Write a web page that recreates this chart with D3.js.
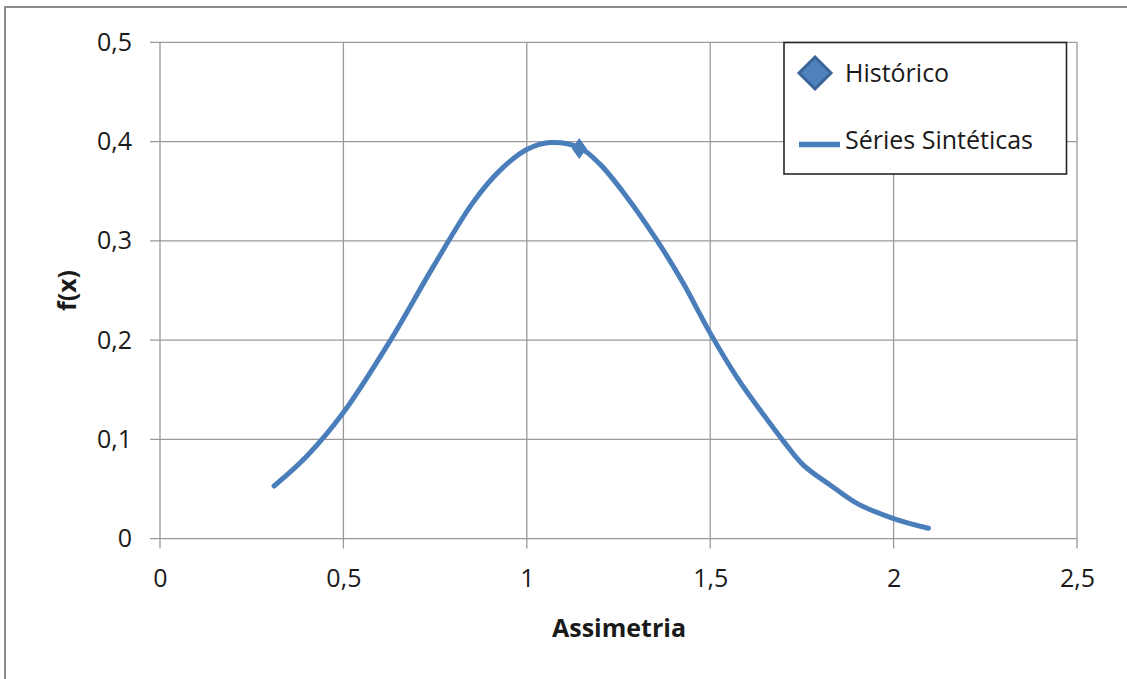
<!DOCTYPE html>
<html>
<head>
  <meta charset="utf-8">
  <script src="https://d3js.org/d3.v7.min.js"></script>
  <style>
    body { margin: 0; background: #fff; }
    .tick-label { font: 25px "Open Sans", sans-serif; fill: #1a1a1a; }
    .axis-title { font: bold 25px "Open Sans", sans-serif; fill: #1a1a1a; }
    .legend-text { font: 25px "Open Sans", sans-serif; fill: #1a1a1a; }
    .grid { stroke: #9a9a9a; stroke-width: 1.3; }
  </style>
</head>
<body>
  <svg width="1127" height="679"></svg>
  <script>
    // values
    var serieX = [0.311, 0.40, 0.5, 0.627, 0.745, 0.854, 0.927, 1.0, 1.063, 1.143,
                  1.2, 1.273, 1.354, 1.427, 1.5, 1.572, 1.645, 1.7, 1.754, 1.827, 1.9, 2.0, 2.095];
    var serieY = [0.053, 0.083, 0.127, 0.199, 0.274, 0.339, 0.371, 0.392, 0.399, 0.394,
                  0.377, 0.344, 0.301, 0.257, 0.207, 0.163, 0.125, 0.098, 0.074, 0.054, 0.0355, 0.0202, 0.0104];
    var historicoX = [1.143];
    var historicoY = [0.393];
    var xTicks = [0, 0.5, 1, 1.5, 2, 2.5];
    var yTicks = [0, 0.1, 0.2, 0.3, 0.4, 0.5];
    var legendLabels = ["Histórico", "Séries Sintéticas"];

    var svg = d3.select("svg");
    var blue = "#4a7ebb";

    var x = d3.scaleLinear().domain([0, 2.5]).range([160, 1077]),
        y = d3.scaleLinear().domain([0, 0.5]).range([538.6, 42.3]);

    var fmt = d3.formatLocale({decimal: ",", thousands: ".", grouping: [3], currency: ["", ""]}).format("~g");

    // outer frame (only left and top edges visible)
    svg.append("rect")
      .attr("x", 5).attr("y", 7)
      .attr("width", 1140).attr("height", 700)
      .attr("fill", "none")
      .attr("stroke", "#8c8c8c")
      .attr("stroke-width", 2);

    // gridlines
    svg.selectAll(".vgrid").data(xTicks).enter().append("line")
      .attr("class", "grid")
      .attr("x1", d => x(d)).attr("x2", d => x(d))
      .attr("y1", y(0.5)).attr("y2", y(0) + 10);

    svg.selectAll(".hgrid").data(yTicks).enter().append("line")
      .attr("class", "grid")
      .attr("x1", x(0) - 10).attr("x2", x(2.5))
      .attr("y1", d => y(d)).attr("y2", d => y(d));

    // axes (labels only)
    var xAxis = svg.append("g")
      .attr("transform", "translate(0," + y(0) + ")")
      .call(d3.axisBottom(x).tickValues(xTicks).tickFormat(fmt).tickSize(0).tickPadding(31));
    xAxis.select(".domain").remove();
    xAxis.selectAll("text").attr("class", "tick-label");
    xAxis.attr("font-size", null).attr("font-family", null);

    var yAxis = svg.append("g")
      .attr("transform", "translate(" + (x(0) - 28) + ",0)")
      .call(d3.axisLeft(y).tickValues(yTicks).tickFormat(fmt).tickSize(0).tickPadding(0));
    yAxis.select(".domain").remove();
    yAxis.selectAll("text").attr("class", "tick-label");
    yAxis.attr("font-size", null).attr("font-family", null);

    // axis titles
    svg.append("text")
      .attr("class", "axis-title")
      .attr("x", (x(0) + x(2.5)) / 2 + 0.5)
      .attr("y", 637)
      .attr("text-anchor", "middle")
      .text("Assimetria");

    svg.append("text")
      .attr("class", "axis-title")
      .attr("transform", "translate(76," + ((y(0) + y(0.5)) / 2) + ") rotate(-90)")
      .attr("text-anchor", "middle")
      .text("f(x)");

    // synthetic series line
    var pts = serieX.map((d, i) => [d, serieY[i]]);
    svg.append("path")
      .datum(pts)
      .attr("fill", "none")
      .attr("stroke", blue)
      .attr("stroke-width", 5)
      .attr("stroke-linecap", "round")
      .attr("stroke-linejoin", "round")
      .attr("d", d3.line().x(d => x(d[0])).y(d => y(d[1])).curve(d3.curveCatmullRom.alpha(0.5)));

    // historical point
    svg.selectAll(".hist").data(historicoX).enter().append("path")
      .attr("class", "hist")
      .attr("transform", (d, i) => "translate(" + x(d) + "," + y(historicoY[i]) + ")")
      .attr("d", "M0,-10.5L7.5,0L0,10.5L-7.5,0Z")
      .attr("fill", blue);

    // legend
    var lg = svg.append("g");
    lg.append("rect")
      .attr("x", 784).attr("y", 42.5)
      .attr("width", 282.5).attr("height", 131.5)
      .attr("fill", "#fff")
      .attr("stroke", "#262626")
      .attr("stroke-width", 1.6);

    lg.append("path")
      .attr("d", "M815,57L831,73L815,89L799,73Z")
      .attr("fill", "#4f81bd")
      .attr("stroke", "#3a6497")
      .attr("stroke-width", 3);

    lg.append("line")
      .attr("x1", 799).attr("x2", 840)
      .attr("y1", 144.5).attr("y2", 144.5)
      .attr("stroke", blue)
      .attr("stroke-width", 5.5);

    lg.selectAll(".legend-text").data(legendLabels).enter().append("text")
      .attr("class", "legend-text")
      .attr("x", 845)
      .attr("y", (d, i) => i === 0 ? 82 : 149)
      .text(d => d);
  </script>
</body>
</html>
